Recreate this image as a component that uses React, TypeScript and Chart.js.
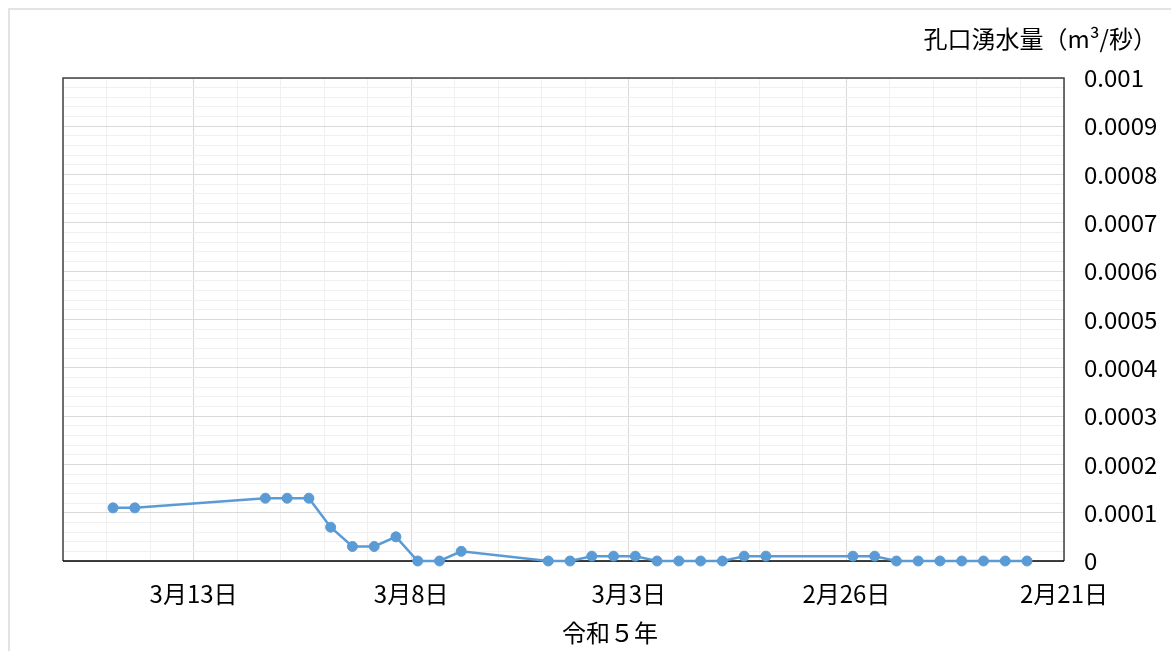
import React, { useEffect, useRef } from 'react';
import { Chart, registerables } from 'chart.js';

Chart.register(...registerables);

// Days after 2月21日 (axis runs backwards: later dates on the left)
const xDays = [
  21.85, 21.35, 18.35, 17.85, 17.35, 16.85, 16.35, 15.85, 15.35, 14.85, 14.35, 13.85,
  11.85, 11.35, 10.85, 10.35, 9.85, 9.35, 8.85, 8.35, 7.85, 7.35, 6.85,
  4.85, 4.35, 3.85, 3.35, 2.85, 2.35, 1.85, 1.35, 0.85,
];
const flowValues = [
  0.00011, 0.00011, 0.00013, 0.00013, 0.00013, 0.00007, 0.00003, 0.00003, 0.00005, 0, 0, 0.00002,
  0, 0, 0.00001, 0.00001, 0.00001, 0, 0, 0, 0, 0.00001, 0.00001,
  0.00001, 0.00001, 0, 0, 0, 0, 0, 0, 0,
];

const xTickDays = [20, 15, 10, 5, 0];
const xTickLabels = ['3月13日', '3月8日', '3月3日', '2月26日', '2月21日'];
const xMin = 0;
const xMax = 23;
const xMinorStep = 1;

const yTickValues = [0, 0.0001, 0.0002, 0.0003, 0.0004, 0.0005, 0.0006, 0.0007, 0.0008, 0.0009, 0.001];
const yTickLabels = ['0', '0.0001', '0.0002', '0.0003', '0.0004', '0.0005', '0.0006', '0.0007', '0.0008', '0.0009', '0.001'];
const yMin = 0;
const yMax = 0.001;
const yMinorPerMajor = 5;

const yAxisTitle = '孔口湧水量（m³/秒）';
const xAxisTitle = '令和５年';

const FONT = "'Noto Sans CJK JP', 'Noto Sans', sans-serif";
const LINE_COLOR = '#5B9BD5';
const GRID_MAJOR = '#d9d9d9';
const GRID_MINOR = '#f0f0f0';

const framePlugin = {
  id: 'plotFrame',
  beforeDatasetsDraw(chart: any) {
    const { ctx, chartArea } = chart;
    const { left, top, right, bottom } = chartArea;
    ctx.save();
    ctx.lineWidth = 1.5;
    ctx.strokeStyle = '#404040';
    ctx.beginPath();
    ctx.moveTo(left, bottom);
    ctx.lineTo(left, top);
    ctx.lineTo(right, top);
    ctx.lineTo(right, bottom);
    ctx.stroke();
    ctx.strokeStyle = '#000000';
    ctx.beginPath();
    ctx.moveTo(left, bottom);
    ctx.lineTo(right, bottom);
    ctx.stroke();
    ctx.restore();
  },
};

export default function App() {
  const canvasRef = useRef<HTMLCanvasElement | null>(null);

  useEffect(() => {
    if (!canvasRef.current) return;
    const yStep = (yTickValues[1] - yTickValues[0]) / yMinorPerMajor;
    const chart = new Chart(canvasRef.current, {
      type: 'line',
      data: {
        datasets: [
          {
            data: xDays.map((x, i) => ({ x, y: flowValues[i] })),
            borderColor: LINE_COLOR,
            backgroundColor: LINE_COLOR,
            borderWidth: 2.5,
            pointRadius: 5,
            pointBorderWidth: 1,
            pointBorderColor: LINE_COLOR,
            pointBackgroundColor: LINE_COLOR,
            tension: 0,
            clip: false as any,
          },
        ],
      },
      options: {
        animation: false,
        responsive: true,
        maintainAspectRatio: false,
        layout: { padding: { left: 53, right: 6, top: 0, bottom: 0 } },
        plugins: {
          legend: { display: false },
          tooltip: { enabled: false },
          title: {
            display: true,
            text: yAxisTitle,
            align: 'end',
            color: '#000',
            font: { family: FONT, size: 24, weight: 'normal', lineHeight: 1.2 },
            padding: { top: 14.6, bottom: 24.6 },
          },
          subtitle: {
            display: true,
            text: xAxisTitle,
            position: 'bottom',
            align: 'center',
            color: '#000',
            font: { family: FONT, size: 24, weight: 'normal', lineHeight: 1.2 },
            padding: { top: 10.2, bottom: 3.6 },
          },
        },
        scales: {
          x: {
            type: 'linear',
            reverse: true,
            min: xMin,
            max: xMax,
            afterBuildTicks: (axis: any) => {
              const ticks = [];
              for (let v = xMin; v <= xMax; v += xMinorStep) ticks.push({ value: v });
              axis.ticks = ticks;
            },
            afterFit: (axis: any) => {
              axis.height = 47.4;
            },
            ticks: {
              autoSkip: false,
              maxRotation: 0,
              minRotation: 0,
              padding: 18.6,
              color: '#000',
              font: { family: FONT, size: 24, lineHeight: 1.2 },
              callback: (value: any) => {
                const i = xTickDays.findIndex((d) => Math.abs(d - Number(value)) < 1e-6);
                return i >= 0 ? xTickLabels[i] : '';
              },
            },
            grid: {
              drawTicks: false,
              lineWidth: 1,
              color: (ctx: any) => {
                const v = ctx.tick ? ctx.tick.value : 0;
                return xTickDays.some((d) => Math.abs(d - v) < 1e-6) ? GRID_MAJOR : GRID_MINOR;
              },
            },
            border: { display: false },
          },
          y: {
            type: 'linear',
            position: 'right',
            min: yMin,
            max: yMax,
            afterBuildTicks: (axis: any) => {
              const n = Math.round((yMax - yMin) / yStep);
              const ticks = [];
              for (let k = 0; k <= n; k++) ticks.push({ value: yMin + k * yStep });
              axis.ticks = ticks;
            },
            afterFit: (axis: any) => {
              axis.width = 93;
            },
            ticks: {
              autoSkip: false,
              padding: 20,
              crossAlign: 'near',
              color: '#000',
              font: { family: FONT, size: 24, lineHeight: 1.2 },
              callback: (value: any) => {
                const i = yTickValues.findIndex((d) => Math.abs(d - Number(value)) < 1e-9);
                return i >= 0 ? yTickLabels[i] : '';
              },
            },
            grid: {
              drawTicks: false,
              lineWidth: 1,
              color: (ctx: any) => {
                const v = ctx.tick ? ctx.tick.value : 0;
                return yTickValues.some((d) => Math.abs(d - v) < 1e-9) ? GRID_MAJOR : GRID_MINOR;
              },
            },
            border: { display: false },
          },
        },
      } as any,
      plugins: [framePlugin],
    });
    return () => chart.destroy();
  }, []);

  return (
    <div
      style={{
        position: 'fixed',
        left: 8,
        top: 8,
        width: 1163,
        height: 643,
        borderLeft: '2px solid #e3e3e3',
        borderTop: '2px solid #e3e3e3',
        boxSizing: 'border-box',
        overflow: 'hidden',
        background: '#ffffff',
      }}
    >
      <div style={{ position: 'relative', width: 1153, height: 641 }}>
        <canvas ref={canvasRef} />
      </div>
    </div>
  );
}
